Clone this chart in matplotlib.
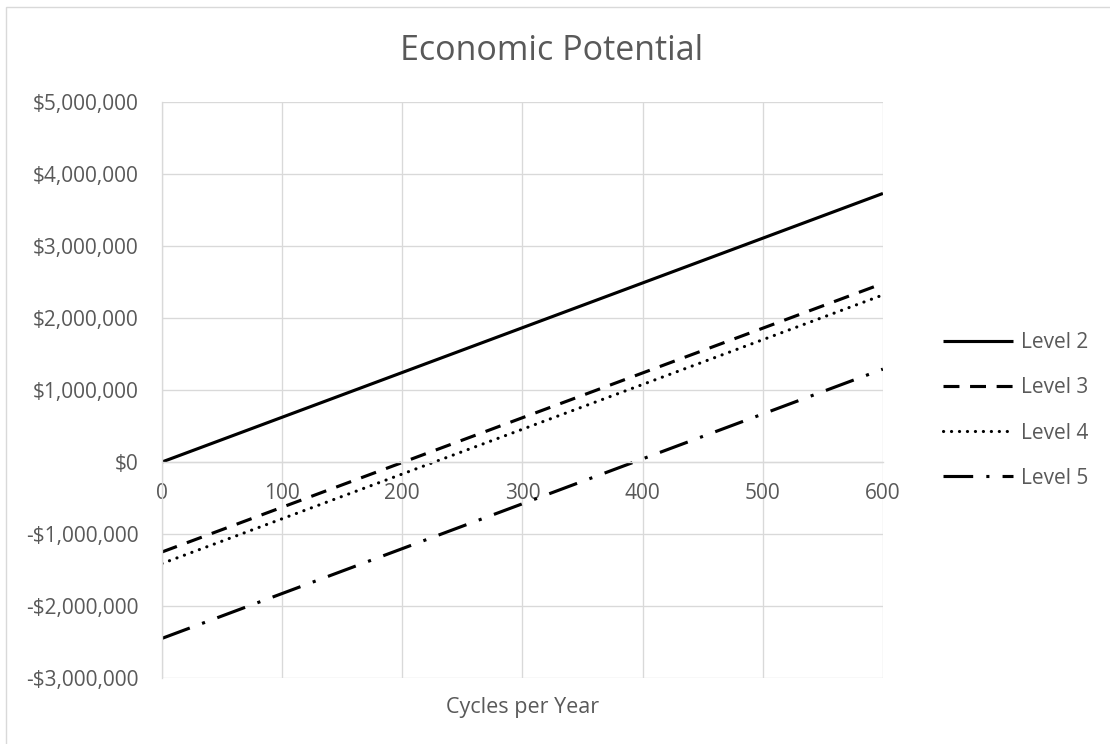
import matplotlib
matplotlib.use("Agg")
import matplotlib.pyplot as plt
from matplotlib.patches import Rectangle
from matplotlib.ticker import FuncFormatter

plt.rcParams["font.family"] = ["Open Sans", "DejaVu Sans"]

# Economic potential (USD) versus annual cycle count
cycles = [0, 600]
level_2 = [0, 3730000]
level_3 = [-1250000, 2480000]
level_4 = [-1410000, 2320000]
level_5 = [-2450000, 1290000]

series_names = ["Level 2", "Level 3", "Level 4", "Level 5"]
x_ticks = [0, 100, 200, 300, 400, 500, 600]
y_ticks = [-3000000, -2000000, -1000000, 0, 1000000, 2000000, 3000000, 4000000, 5000000]

TEXT = "#595959"
GRID = "#d9d9d9"

fig = plt.figure(figsize=(11.10, 7.44), dpi=100)
ax = fig.add_axes([0.1459, 0.0887, 0.6495, 0.7742])

lw = 2.25
ax.plot(cycles, level_2, color="black", lw=lw, linestyle="-",
        solid_capstyle="butt", label=series_names[0])
ax.plot(cycles, level_3, color="black", lw=lw, linestyle=(0, (5.1, 3.4)),
        dash_capstyle="butt", label=series_names[1])
ax.plot(cycles, level_4, color="black", lw=lw, linestyle=(0, (0.05, 2.5)),
        dash_capstyle="round", label=series_names[2])
ax.plot(cycles, level_5, color="black", lw=lw, linestyle=(0, (9.5, 4.2, 1.0, 4.2)),
        dash_capstyle="butt", label=series_names[3])

ax.set_xlim(0, 600)
ax.set_ylim(-3000000, 5000000)
ax.set_xticks(x_ticks)
ax.set_yticks(y_ticks)


def money(v, _pos):
    v = int(round(v))
    if v < 0:
        return "-${:,}".format(-v)
    return "${:,}".format(v)


ax.yaxis.set_major_formatter(FuncFormatter(money))
ax.grid(True, color=GRID, lw=0.95)
ax.set_axisbelow(True)

for side in ("top", "right"):
    ax.spines[side].set_visible(False)
ax.spines["left"].set_color(GRID)
ax.spines["left"].set_linewidth(0.95)
ax.spines["bottom"].set_position(("data", 0))
ax.spines["bottom"].set_color(GRID)
ax.spines["bottom"].set_linewidth(0.95)

ax.tick_params(axis="both", length=0, labelsize=15, labelcolor=TEXT)
ax.tick_params(axis="y", pad=17)
ax.tick_params(axis="x", pad=15)

ax.set_xlabel("Cycles per Year", fontsize=15.5, color=TEXT)
ax.xaxis.set_label_coords(0.5, -0.033)

fig.text(0.497, 0.932, "Economic Potential", fontsize=24.5, color=TEXT,
         ha="center", va="center")

leg = fig.legend(loc="center left", bbox_to_anchor=(943 / 1110, 1 - 410.5 / 744),
                 frameon=False, fontsize=15, labelcolor=TEXT,
                 handlelength=3.37, handletextpad=0.38, labelspacing=1.16,
                 borderpad=0, borderaxespad=0)

# chart-area border
fig.patches.append(Rectangle((6 / 1110, -0.05), 1.2, 0.05 + 1 - 6.5 / 744,
                             transform=fig.transFigure, fill=False,
                             edgecolor=GRID, lw=1.0, clip_on=False))

fig.savefig("out.png", dpi=100)
